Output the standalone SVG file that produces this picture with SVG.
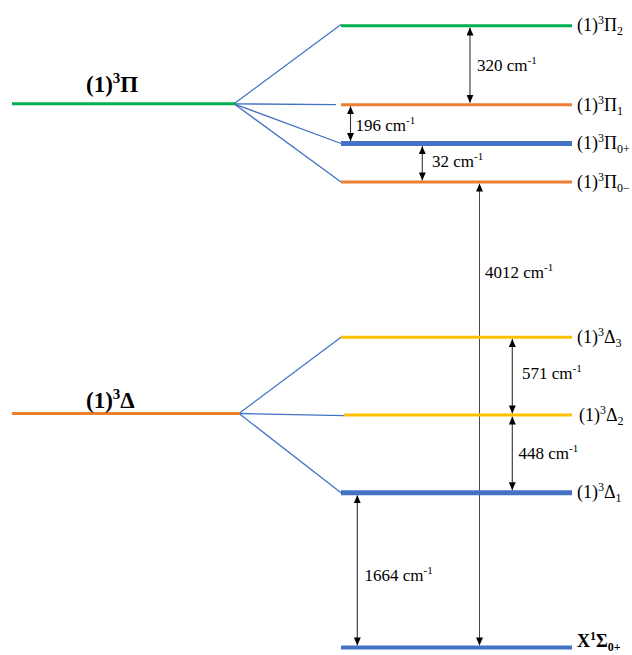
<svg xmlns="http://www.w3.org/2000/svg" width="632" height="655" viewBox="0 0 632 655">
<style>
text{font-family:"Liberation Serif";fill:#000}
.lbl{font-size:18px}
.big{font-size:23px;font-weight:bold}
.xl{font-size:18px;font-weight:bold}
.meas{font-size:17px}
.g{stroke:#00B050;stroke-width:3}
.o{stroke:#ED7D31;stroke-width:3}
.y{stroke:#FFC000;stroke-width:3}
.b{stroke:#4472C4;stroke-width:5}
.c{stroke:#4472C4;stroke-width:1.3;fill:none}
.a{stroke:#333;stroke-width:1.1;marker-start:url(#ah);marker-end:url(#ah)}
</style>
<defs>
<marker id="ah" viewBox="0 0 8 7" refX="8" refY="3.5" markerWidth="8" markerHeight="7" markerUnits="userSpaceOnUse" orient="auto-start-reverse">
<path d="M0,0 L8,3.5 L0,7 z" fill="#000"/>
</marker>
</defs>
<rect width="632" height="655" fill="#fff"/>

<g id="connectors">
<line class="c" x1="234" y1="103.8" x2="341" y2="24.5"/>
<line class="c" x1="234" y1="103.8" x2="336" y2="104.7"/>
<line class="c" x1="234" y1="103.8" x2="341" y2="143.5"/>
<line class="c" x1="234" y1="103.8" x2="341" y2="182"/>
<line class="c" x1="239" y1="413.5" x2="341" y2="337.3"/>
<line class="c" x1="239" y1="413.5" x2="344" y2="415.7"/>
<line class="c" x1="239" y1="413.5" x2="341" y2="492.7"/>
<line class="a" x1="470" y1="27.5" x2="470" y2="102.8"/>
<line class="a" x1="350.5" y1="106.2" x2="350.5" y2="141"/>
<line class="a" x1="422.3" y1="146.2" x2="422.3" y2="180.4"/>
<line class="a" x1="479.5" y1="183.6" x2="479.5" y2="645.4" style="stroke-width:0.9"/>
<line class="a" x1="512.3" y1="339" x2="512.3" y2="413.4"/>
<line class="a" x1="512.3" y1="416.6" x2="512.3" y2="490.2"/>
<line class="a" x1="357.3" y1="495.3" x2="357.3" y2="645.4"/>
</g>

<g id="labels-measure">
<text class="meas" x="477" y="71">320 cm<tspan dy="-7" font-size="11">-1</tspan></text>
<text class="meas" x="355.5" y="131">196 cm<tspan dy="-7" font-size="11">-1</tspan></text>
<text class="meas" x="432" y="167">32 cm<tspan dy="-7" font-size="11">-1</tspan></text>
<text class="meas" x="485" y="278">4012 cm<tspan dy="-7" font-size="11">-1</tspan></text>
<text class="meas" x="522" y="379">571 cm<tspan dy="-7" font-size="11">-1</tspan></text>
<text class="meas" x="518.5" y="459">448 cm<tspan dy="-7" font-size="11">-1</tspan></text>
<text class="meas" x="364.5" y="581">1664 cm<tspan dy="-7" font-size="11">-1</tspan></text>
</g>

<g id="pi-parent">
<line class="g" x1="12" y1="103.8" x2="236" y2="103.8"/>
<text class="big" x="86" y="92">(1)<tspan dy="-9" font-size="15">3</tspan><tspan dy="9">Π</tspan></text>
</g>
<g id="delta-parent">
<line class="o" x1="12" y1="413.5" x2="240" y2="413.5"/>
<text class="big" x="86" y="408">(1)<tspan dy="-9" font-size="15">3</tspan><tspan dy="9">Δ</tspan></text>
</g>

<g id="pi2">
<line class="g" x1="341" y1="25.7" x2="572" y2="25.7"/>
<text class="lbl" x="577" y="31">(1)<tspan dy="-7" font-size="12">3</tspan><tspan dy="7">Π</tspan><tspan dy="4" font-size="12">2</tspan></text>
</g>
<g id="pi1">
<line class="o" x1="341" y1="104.7" x2="572" y2="104.7"/>
<text class="lbl" x="577" y="111">(1)<tspan dy="-7" font-size="12">3</tspan><tspan dy="7">Π</tspan><tspan dy="4" font-size="12">1</tspan></text>
</g>
<g id="pi0plus">
<line class="b" x1="341" y1="143.5" x2="572" y2="143.5"/>
<text class="lbl" x="577" y="149">(1)<tspan dy="-7" font-size="12">3</tspan><tspan dy="7">Π</tspan><tspan dy="4" font-size="12">0+</tspan></text>
</g>
<g id="pi0minus">
<line class="o" x1="341" y1="182" x2="572" y2="182"/>
<text class="lbl" x="577" y="188">(1)<tspan dy="-7" font-size="12">3</tspan><tspan dy="7">Π</tspan><tspan dy="4" font-size="12">0−</tspan></text>
</g>
<g id="delta3">
<line class="y" x1="341" y1="337.3" x2="572" y2="337.3"/>
<text class="lbl" x="577" y="343">(1)<tspan dy="-7" font-size="12">3</tspan><tspan dy="7">Δ</tspan><tspan dy="4" font-size="12">3</tspan></text>
</g>
<g id="delta2">
<line class="y" x1="344" y1="415" x2="572" y2="415"/>
<text class="lbl" x="579" y="421">(1)<tspan dy="-7" font-size="12">3</tspan><tspan dy="7">Δ</tspan><tspan dy="4" font-size="12">2</tspan></text>
</g>
<g id="delta1">
<line class="b" x1="341" y1="492.7" x2="572" y2="492.7"/>
<text class="lbl" x="577" y="498">(1)<tspan dy="-7" font-size="12">3</tspan><tspan dy="7">Δ</tspan><tspan dy="4" font-size="12">1</tspan></text>
</g>
<g id="ground">
<line class="b" x1="341" y1="647.5" x2="572" y2="647.5" style="stroke-width:4"/>
<text class="xl" x="577" y="647">X<tspan dy="-7" font-size="12">1</tspan><tspan dy="7">Σ</tspan><tspan dy="4" font-size="12">0+</tspan></text>
</g>
</svg>
